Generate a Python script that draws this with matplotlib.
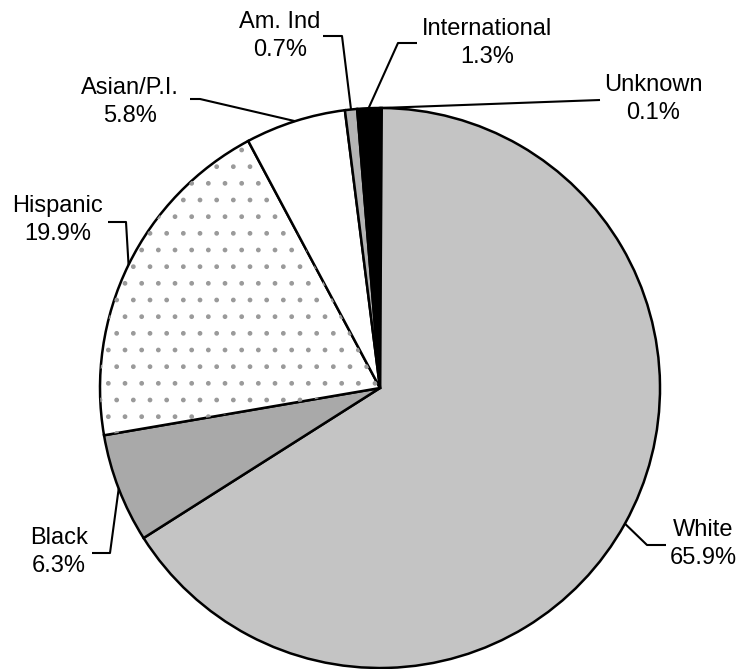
import numpy as np
import matplotlib
matplotlib.use("Agg")
import matplotlib.pyplot as plt
import matplotlib.patches as mpatches

# ---- data (clockwise from 12 o'clock) ----
groups = ["Unknown", "White", "Black", "Hispanic", "Asian/P.I.", "Am. Ind", "International"]
shares = [0.1, 65.9, 6.3, 19.9, 5.8, 0.7, 1.3]
fills = ["#d0d0d0", "#c4c4c4", "#a9a9a9", "#ffffff", "#ffffff", "#b4b4b4", "#000000"]

# label layout in image pixels: text centre, leader elbow, leader end
W, H = 741, 669
CX, CY, R = 380, 388, 280
label_pos = {
    "Unknown":       (653, 99),
    "White":         (703, 544),
    "Black":         (59, 552),
    "Hispanic":      (58, 220),
    "Asian/P.I.":    (130, 102),
    "Am. Ind":       (280, 36),
    "International": (487, 43),
}
elbows = {
    "Unknown":       [(600, 100)],
    "White":         [(647, 545), (666, 545)],
    "Black":         [(110, 553), (92, 553)],
    "Hispanic":      [(126, 222), (108, 222)],
    "Asian/P.I.":    [(200, 99), (190, 99)],
    "Am. Ind":       [(342, 36), (323, 36)],
    "International": [(398, 43), (417, 43)],
}

plt.rcParams["font.family"] = ["Liberation Sans", "DejaVu Sans"]

fig = plt.figure(figsize=(W / 100, H / 100), dpi=100)
ax = fig.add_axes([0, 0, 1, 1])

wedges, _ = ax.pie(shares, colors=fills, startangle=90, counterclock=False,
                   center=(CX, H - CY), radius=R, frame=True,
                   wedgeprops=dict(edgecolor="black", linewidth=1.8))

# dotted texture on the Hispanic slice
w = wedges[groups.index("Hispanic")]
ax.add_patch(mpatches.Wedge(w.center, w.r, w.theta1, w.theta2, facecolor="none",
                            edgecolor="#9a9a9a", linewidth=0, hatch="."))

cum = np.cumsum([0] + shares)
total = cum[-1]
for i, name in enumerate(groups):
    mid = (cum[i] + cum[i + 1]) / 2 / total
    ang = np.deg2rad(90 - 360 * mid)
    ex, ey = CX + R * np.cos(ang), (H - CY) + R * np.sin(ang)
    pts = [(ex, ey)] + [(x, H - y) for x, y in elbows[name]]
    ax.plot([p[0] for p in pts], [p[1] for p in pts], color="black", lw=1.5,
            solid_capstyle="butt", zorder=5)
    tx, ty = label_pos[name]
    ax.text(tx, H - ty, f"{name}\n{shares[i]:.1f}%", ha="center", va="center",
            fontsize=17, linespacing=1.3)

ax.set_xlim(0, W)
ax.set_ylim(0, H)
ax.set_aspect("equal")
ax.axis("off")

fig.savefig("out.png", dpi=100, facecolor="white")
